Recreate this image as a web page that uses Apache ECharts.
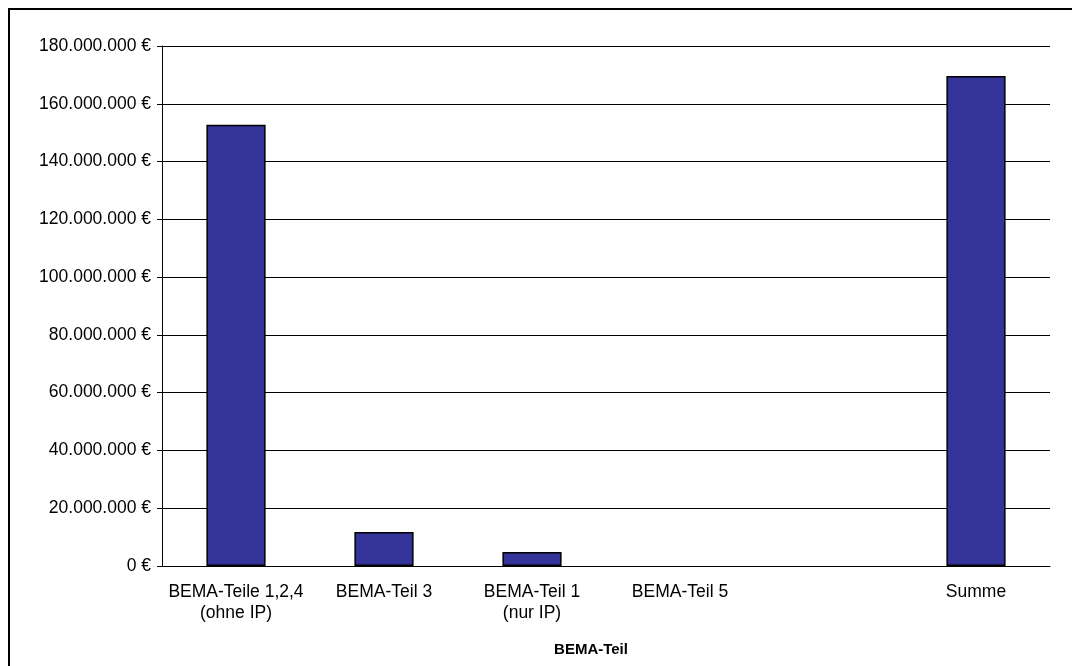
<!DOCTYPE html>
<html>
<head>
<meta charset="utf-8">
<script src="https://cdn.jsdelivr.net/npm/echarts@6/dist/echarts.min.js"></script>
<style>
html,body{margin:0;padding:0;background:#fff;}
#chart{width:1072px;height:666px;}
</style>
</head>
<body>
<div id="chart"></div>
<script>
const categories = ['BEMA-Teile 1,2,4\n(ohne IP)', 'BEMA-Teil 3', 'BEMA-Teil 1\n(nur IP)', 'BEMA-Teil 5', '', 'Summe'];
const values = [152700000, 11800000, 4850000, null, null, 169600000];
const xAxisTitle = 'BEMA-Teil';
const yMin = 0, yMax = 180000000, yStep = 20000000;

function fmtEuro(v) {
  const s = String(Math.round(v)).replace(/\B(?=(\d{3})+(?!\d))/g, '.');
  return s + ' €';
}

const chart = echarts.init(document.getElementById('chart'), null, {renderer: 'canvas'});
const font = '"Liberation Sans", Arial, sans-serif';
chart.setOption({
  animation: false,
  backgroundColor: '#ffffff',
  grid: {left: 162, right: 22, top: 46, bottom: 100, containLabel: false},
  xAxis: {
    type: 'category',
    data: categories,
    axisLine: {lineStyle: {color: '#000', width: 1}},
    axisTick: {show: false},
    axisLabel: {
      interval: 0, margin: 15, color: '#000',
      fontFamily: font, fontSize: 17.5, lineHeight: 21.5
    },
    splitLine: {show: false}
  },
  yAxis: {
    type: 'value',
    min: yMin, max: yMax, interval: yStep,
    axisLine: {show: true, lineStyle: {color: '#000', width: 1}},
    axisTick: {show: true, length: 5, lineStyle: {color: '#000'}},
    axisLabel: {
      margin: 11, color: '#000', fontFamily: font, fontSize: 17.5,
      formatter: fmtEuro
    },
    splitLine: {show: true, lineStyle: {color: '#000', width: 1}}
  },
  series: [{
    type: 'bar',
    data: values,
    barWidth: '40%',
    itemStyle: {color: '#333399', borderColor: '#000', borderWidth: 1.5}
  }],
  graphic: [
    {
      type: 'rect',
      shape: {x: 9, y: 9, width: 1200, height: 800},
      style: {fill: 'none', stroke: '#000', lineWidth: 2},
      silent: true
    },
    {
      type: 'text',
      x: 591, y: 650,
      style: {
        text: xAxisTitle, fill: '#000',
        font: 'bold 15px "Liberation Sans", Arial, sans-serif',
        textAlign: 'center', textVerticalAlign: 'middle'
      }
    }
  ]
});
</script>
</body>
</html>
